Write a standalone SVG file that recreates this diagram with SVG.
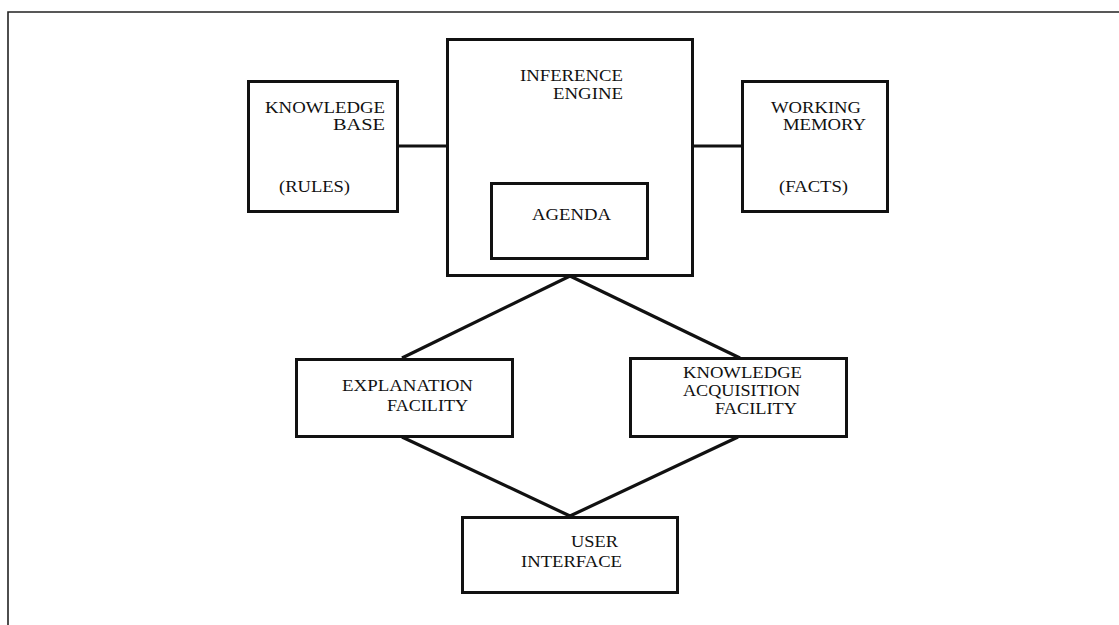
<svg xmlns="http://www.w3.org/2000/svg" width="1119" height="625" viewBox="0 0 1119 625">
  <style>
    .box { fill: #fff; stroke: #111; stroke-width: 3; }
    .link { stroke: #111; stroke-width: 3.2; fill: none; stroke-linecap: butt; }
    .frame { stroke: #222; stroke-width: 1.6; fill: none; }
    text { font-family: "Liberation Serif", "Times New Roman", serif; font-size: 17px; fill: #111; }
  </style>
  <rect width="1119" height="625" fill="#fff"/>

  <!-- page frame -->
  <path class="frame" d="M8 625 V12 H1119"/>

  <!-- connectors -->
  <g id="connectors">
    <line class="link" x1="398" y1="146" x2="447" y2="146"/>
    <line class="link" x1="693" y1="146" x2="743" y2="146"/>
    <line class="link" x1="570" y1="276" x2="402" y2="358"/>
    <line class="link" x1="570" y1="276" x2="740" y2="358"/>
    <line class="link" x1="402" y1="437" x2="570" y2="516"/>
    <line class="link" x1="738" y1="437" x2="570" y2="516"/>
  </g>

  <g id="knowledge-base">
    <rect class="box" x="248.5" y="81.5" width="149" height="130"/>
    <text x="265" y="113" textLength="120" lengthAdjust="spacingAndGlyphs">KNOWLEDGE</text>
    <text x="333" y="130" textLength="52" lengthAdjust="spacingAndGlyphs">BASE</text>
    <text x="279" y="192" textLength="71" lengthAdjust="spacingAndGlyphs">(RULES)</text>
  </g>

  <g id="inference-engine">
    <rect class="box" x="447.5" y="39.5" width="245" height="236"/>
    <text x="520" y="81" textLength="103" lengthAdjust="spacingAndGlyphs">INFERENCE</text>
    <text x="553" y="99" textLength="70" lengthAdjust="spacingAndGlyphs">ENGINE</text>
  </g>

  <g id="agenda">
    <rect class="box" x="491.5" y="183.5" width="156" height="75"/>
    <text x="532" y="220" textLength="79" lengthAdjust="spacingAndGlyphs">AGENDA</text>
  </g>

  <g id="working-memory">
    <rect class="box" x="742.5" y="81.5" width="145" height="130"/>
    <text x="771" y="113" textLength="90" lengthAdjust="spacingAndGlyphs">WORKING</text>
    <text x="783" y="130" textLength="83" lengthAdjust="spacingAndGlyphs">MEMORY</text>
    <text x="779" y="192" textLength="69" lengthAdjust="spacingAndGlyphs">(FACTS)</text>
  </g>

  <g id="explanation-facility">
    <rect class="box" x="296.5" y="359.5" width="216" height="77"/>
    <text x="342" y="391" textLength="131" lengthAdjust="spacingAndGlyphs">EXPLANATION</text>
    <text x="387" y="411" textLength="81" lengthAdjust="spacingAndGlyphs">FACILITY</text>
  </g>

  <g id="knowledge-acquisition-facility">
    <rect class="box" x="630.5" y="358.5" width="216" height="78"/>
    <text x="683" y="378" textLength="119" lengthAdjust="spacingAndGlyphs">KNOWLEDGE</text>
    <text x="683" y="396" textLength="117" lengthAdjust="spacingAndGlyphs">ACQUISITION</text>
    <text x="715" y="414" textLength="82" lengthAdjust="spacingAndGlyphs">FACILITY</text>
  </g>

  <g id="user-interface">
    <rect class="box" x="462.5" y="517.5" width="215" height="75"/>
    <text x="571" y="547" textLength="47" lengthAdjust="spacingAndGlyphs">USER</text>
    <text x="521" y="567" textLength="101" lengthAdjust="spacingAndGlyphs">INTERFACE</text>
  </g>
</svg>
